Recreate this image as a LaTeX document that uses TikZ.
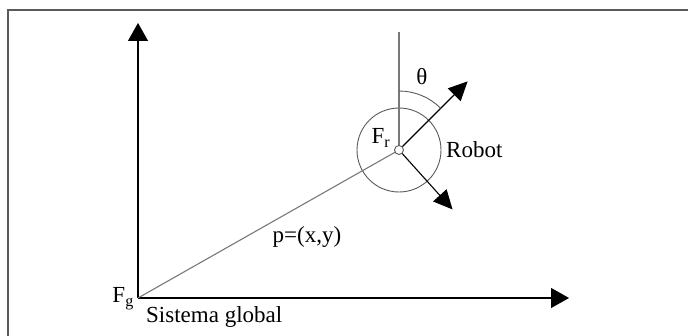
\documentclass[tikz,border=0pt]{standalone}
\usepackage{fontspec}
\setmainfont{Liberation Serif}
\usepackage{tikz}
\usetikzlibrary{positioning,arrows.meta,calc}
\definecolor{FrameGray}{RGB}{90,90,90}
\definecolor{LineGray}{RGB}{120,120,120}
\definecolor{InkBlack}{RGB}{0,0,0}
\tikzset{
  axis/.style={
    draw=InkBlack,
    line width=1.2pt,
    -{Triangle[length=18pt,width=20pt]}
  },
  heading/.style={
    draw=InkBlack,
    line width=1.1pt,
    -{Triangle[length=19pt,width=18pt]}
  },
  guide/.style={draw=LineGray,line width=1.1pt},
  label/.style={inner sep=0pt,font=\fontsize{23}{26}\selectfont}
}

\begin{document}
\begin{tikzpicture}[x=1pt,y=1pt]
    \useasboundingbox (0,0) rectangle (688,336);
    % frame
    \draw[FrameGray,line width=1.5pt] (8,0) -- (8,326) -- (688,326);
    % global frame
    \coordinate (og) at (138,38);
    \coordinate (ytip) at (138,313);
    \coordinate (xtip) at (569,38);
    \draw[axis] (og) -- (ytip);
    \draw[axis] (og) -- (xtip);
    % robot frame
    \coordinate (cr) at (399,186);
    \coordinate (up) at (399,304);
    \node[circle,draw=FrameGray,line width=0.9pt,minimum size=84pt,inner sep=0pt] (robot) at (cr) {};
    \draw[guide] (og) -- (cr);
    \draw[guide] (cr) -- (up);
    \coordinate (front) at ($(cr)+(45:97)$);
    \coordinate (side) at ($(cr)+(-48:80)$);
    \draw[heading] (cr) -- (front);
    \draw[heading] (cr) -- (side);
    \draw[FrameGray,line width=0.9pt] ($(cr)+(90:59)$) arc[start angle=90,end angle=45,radius=59];
    \node[circle,draw=FrameGray,fill=white,line width=0.9pt,minimum size=9pt,inner sep=0pt] (center) at (cr) {};
    % labels
    \node[label] (theta) at (422,259) {θ};
    \node[label] (fr) at (381,198) {F\textsubscript{r}};
    \node[label,anchor=west] (rlabel) at (446,186) {Robot};
    \node[label] (pos) at (307,99) {p=(x,y)};
    \node[label,anchor=east] (fg) at (134,37) {F\textsubscript{g}};
    \node[label,anchor=west] (glabel) at (146,19) {Sistema global};
  \end{tikzpicture}
\end{document}
